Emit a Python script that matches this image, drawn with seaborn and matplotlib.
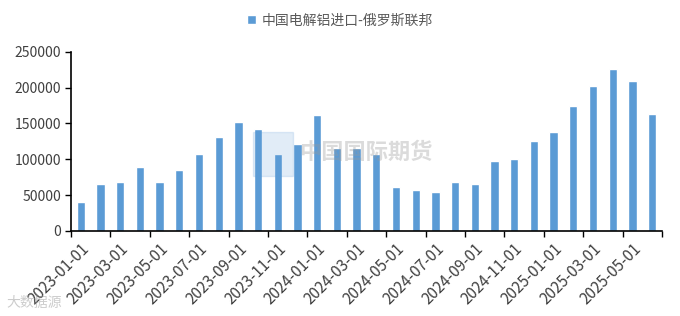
import matplotlib
matplotlib.use("Agg")
import matplotlib.pyplot as plt
import seaborn as sns
import pandas as pd
import numpy as np
from matplotlib.ticker import FixedLocator

months = ["2023-01-01", "2023-02-01", "2023-03-01", "2023-04-01", "2023-05-01", "2023-06-01",
          "2023-07-01", "2023-08-01", "2023-09-01", "2023-10-01", "2023-11-01", "2023-12-01",
          "2024-01-01", "2024-02-01", "2024-03-01", "2024-04-01", "2024-05-01", "2024-06-01",
          "2024-07-01", "2024-08-01", "2024-09-01", "2024-10-01", "2024-11-01", "2024-12-01",
          "2025-01-01", "2025-02-01", "2025-03-01", "2025-04-01", "2025-05-01", "2025-06-01"]
imports = [41000, 65000, 68000, 89000, 69000, 85000,
           107500, 131500, 152500, 142000, 107500, 121000,
           161500, 116000, 116000, 107500, 62000, 57000,
           54500, 68000, 66000, 97000, 100500, 125500,
           138500, 174500, 201500, 226500, 208500, 163000]
series_name = "中国电解铝进口-俄罗斯联邦"
yticks = [0, 50000, 100000, 150000, 200000, 250000]

sns.set_style("white")
plt.rcParams['font.family'] = ['Noto Sans CJK SC', 'DejaVu Sans']

df = pd.DataFrame({"month": months, "value": imports})

fig = plt.figure(figsize=(6.8, 3.16), dpi=100)
ax = fig.add_axes([0.1044, 0.269, 0.869, 0.5674])

sns.barplot(data=df, x="month", y="value", color="#5B9BD5", saturation=1,
            width=0.42, ax=ax)

ax.set_ylim(0, 250000)
ax.set_xlim(-0.5, len(months) - 0.5)
ax.set_yticks(yticks)
ax.set_yticklabels([str(v) for v in yticks], fontsize=10, color="#404040")

major = list(range(0, len(months), 2))
ax.xaxis.set_major_locator(FixedLocator(major))
ax.set_xticklabels([months[i] for i in major], rotation=45, ha="right",
                   rotation_mode="anchor", fontsize=11, color="#404040")
ax.xaxis.set_minor_locator(FixedLocator([i - 0.5 for i in range(0, len(months) + 1, 2)]))
ax.tick_params(axis="x", which="major", length=0, pad=7)
ax.tick_params(axis="x", which="minor", length=4, width=1, color="black", direction="out", bottom=True)
ax.tick_params(axis="y", length=4, width=1, color="black", direction="out", left=True, pad=3)

ax.set_xlabel("")
ax.set_ylabel("")
for s in ["top", "right"]:
    ax.spines[s].set_visible(False)
for s in ["left", "bottom"]:
    ax.spines[s].set_color("black")
    ax.spines[s].set_linewidth(1.2)

leg = fig.legend(handles=ax.patches[:1], labels=[series_name], loc="center",
                 bbox_to_anchor=(0.5, 0.935), frameon=False, fontsize=10,
                 handlelength=0.6, handleheight=0.6, handletextpad=0.4)
for t in leg.get_texts():
    t.set_color("#595959")

# watermarks
fig.patches.append(plt.Rectangle((253 / 680, 1 - 176 / 316), 40 / 680, 44 / 316,
                                 transform=fig.transFigure, color="#5B9BD5", alpha=0.18, zorder=0))
fig.text(0.44, 1 - 152 / 316, "中国国际期货", fontsize=16, color="#9a9a9a", alpha=0.35,
         ha="left", va="center", weight="bold")
fig.text(0.01, 0.04, "大数据源", fontsize=10, color="#9a9a9a", alpha=0.5, ha="left", va="center")

fig.savefig("out.png", dpi=100)
